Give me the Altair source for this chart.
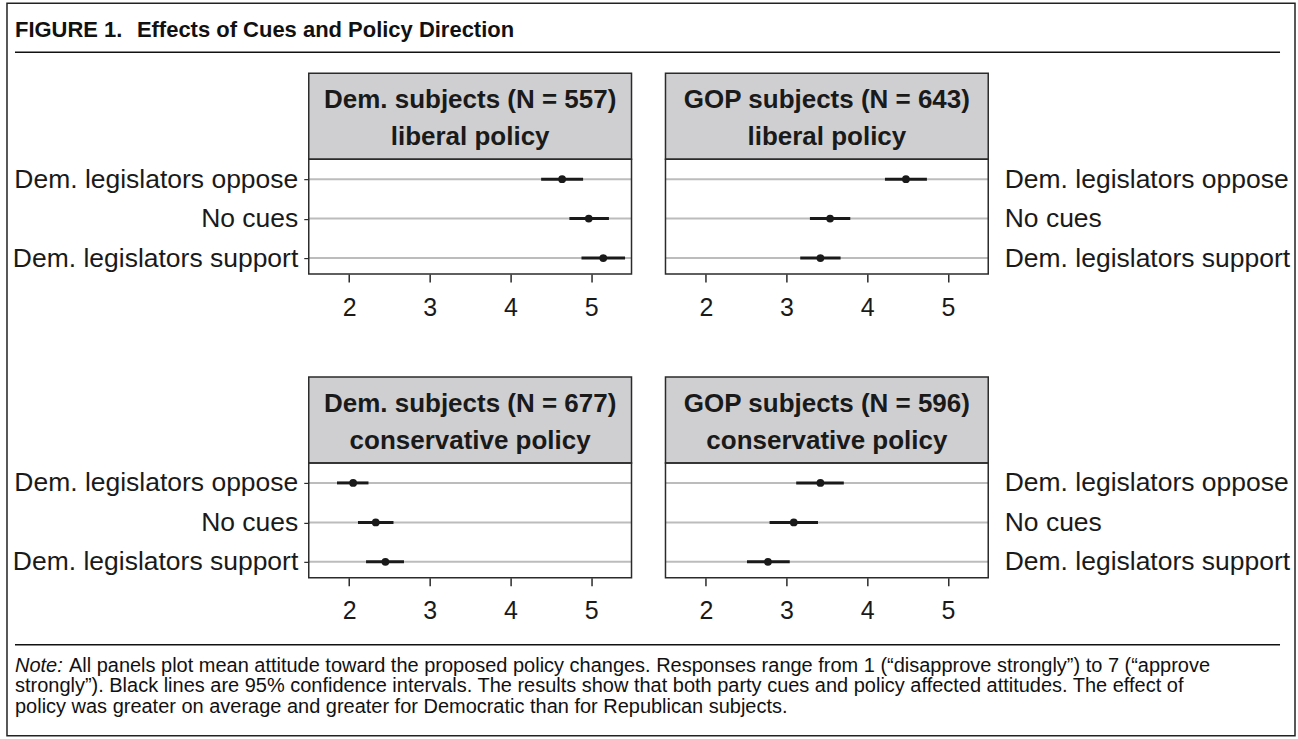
import altair as alt
import pandas as pd

# ---- data -----------------------------------------------------------------
cues = ["Dem. legislators oppose", "No cues", "Dem. legislators support"]

header_top = ["Dem. subjects (N = 557)", "GOP subjects (N = 643)",
              "Dem. subjects (N = 677)", "GOP subjects (N = 596)"]
header_bottom = ["liberal policy", "liberal policy",
                 "conservative policy", "conservative policy"]

# mean attitude and 95% confidence bounds, in the order of `cues`
dem_lib_mean = [4.64, 4.97, 5.15]
dem_lib_lo = [4.38, 4.73, 4.88]
dem_lib_hi = [4.90, 5.22, 5.42]

gop_lib_mean = [4.48, 3.54, 3.42]
gop_lib_lo = [4.22, 3.29, 3.17]
gop_lib_hi = [4.74, 3.79, 3.67]

dem_con_mean = [2.05, 2.33, 2.45]
dem_con_lo = [1.85, 2.11, 2.21]
dem_con_hi = [2.24, 2.55, 2.68]

gop_con_mean = [3.42, 3.09, 2.77]
gop_con_lo = [3.12, 2.79, 2.51]
gop_con_hi = [3.71, 3.39, 3.04]

x_ticks = [2, 3, 4, 5]
x_domain = [1.5, 5.5]

figure_label = ["FIGURE 1."]
figure_title = ["Effects of Cues and Policy Direction"]
note_lead = ["Note:"]
note_line1 = ["All panels plot mean attitude toward the proposed policy changes. "
              "Responses range from 1 (\u201cdisapprove strongly\u201d) to 7 (\u201capprove"]
note_line2 = ["strongly\u201d). Black lines are 95% confidence intervals. The results show "
              "that both party cues and policy affected attitudes. The effect of"]
note_line3 = ["policy was greater on average and greater for Democratic than for "
              "Republican subjects."]

# ---- styling --------------------------------------------------------------
W, H, HEAD = 323, 201, 86          # panel width, header + plot height, header height
FONT = "Liberation Sans"
INK = "#1a1a1a"
EDGE = "#2b2b2b"
LABEL_SIZE = 26.5
NOTE_SIZE = 20
NOTE_X = -294                      # left text margin, relative to a panel's left edge


def one_row(**cols):
    return pd.DataFrame({k: [v] for k, v in cols.items()})


def panel(k, mean, lo, hi, side, extras=()):
    df = pd.DataFrame({"cue": cues, "mean": mean, "lo": lo, "hi": hi})
    head_df = one_row(top=header_top[k], bottom=header_bottom[k])

    xscale = alt.Scale(domain=x_domain, nice=False, zero=False)
    xaxis = alt.Axis(values=x_ticks, domain=False, grid=False, tickSize=8,
                     tickColor=EDGE, tickWidth=1.5, labelPadding=13,
                     labelFontSize=25, labelFont=FONT, labelColor=INK,
                     labelFlush=False, title=None)
    yscale = alt.Scale(type="point", domain=cues, range=[106, 185], padding=0)
    if side == "left":
        yaxis = alt.Axis(orient="left", domain=False, grid=False, ticks=True,
                         tickSize=5, tickColor=EDGE, tickWidth=1.2,
                         labelPadding=6, labelFontSize=LABEL_SIZE, labelFont=FONT,
                         labelColor=INK, labelLimit=400, title=None)
    else:
        yaxis = alt.Axis(orient="right", domain=False, grid=False, ticks=False,
                         labelPadding=16, labelAlign="left", labelFontSize=LABEL_SIZE,
                         labelFont=FONT, labelColor=INK, labelLimit=400, title=None)
    y_enc = alt.Y("cue:N", scale=yscale, axis=yaxis)

    grid = alt.Chart(df).mark_rule(color="#bcbcbc", strokeWidth=2).encode(
        y=y_enc, x=alt.value(0), x2=alt.value(W))
    head = alt.Chart(head_df).mark_rect(fill="#cfcfd1", stroke=EDGE, strokeWidth=1.5).encode(
        x=alt.value(0), x2=alt.value(W), y=alt.value(0), y2=alt.value(HEAD))
    head_t1 = alt.Chart(head_df).mark_text(
        font=FONT, fontSize=26, fontWeight="bold", color=INK, align="center",
        baseline="middle").encode(x=alt.value(W / 2), y=alt.value(27), text="top:N")
    head_t2 = alt.Chart(head_df).mark_text(
        font=FONT, fontSize=26, fontWeight="bold", color=INK, align="center",
        baseline="middle").encode(x=alt.value(W / 2), y=alt.value(64), text="bottom:N")
    frame = alt.Chart(head_df).mark_rect(fillOpacity=0, stroke=EDGE, strokeWidth=1.5).encode(
        x=alt.value(0), x2=alt.value(W), y=alt.value(HEAD), y2=alt.value(H))
    ci = alt.Chart(df).mark_rule(color=INK, strokeWidth=3).encode(
        x=alt.X("lo:Q", scale=xscale, axis=xaxis), x2="hi:Q", y=y_enc)
    dots = alt.Chart(df).mark_circle(size=60, color=INK, opacity=1).encode(
        x=alt.X("mean:Q", scale=xscale, axis=xaxis), y=y_enc)

    return alt.layer(grid, head, head_t1, head_t2, frame, ci, dots, *extras).properties(
        width=W, height=H)


def text_line(values, x, y, size, **style):
    return alt.Chart(pd.DataFrame({"t": values})).mark_text(
        font=FONT, fontSize=size, color="#111", align="left", **style).encode(
        x=alt.value(x), y=alt.value(y), text="t:N")


# figure heading, its rule and the outer border (placed relative to the first panel)
heading = [
    text_line(figure_label, NOTE_X, -36, 22, fontWeight="bold", baseline="alphabetic"),
    text_line(figure_title, -172, -36, 22, fontWeight="bold", baseline="alphabetic"),
    alt.Chart(one_row(a=0)).mark_rule(color="#111", strokeWidth=1.5).encode(
        x=alt.value(NOTE_X), x2=alt.value(972), y=alt.value(-21)),
    alt.Chart(one_row(a=0)).mark_rect(fillOpacity=0, stroke="#222", strokeWidth=1.5).encode(
        x=alt.value(-302), x2=alt.value(987), y=alt.value(-70), y2=alt.value(663)),
]

# note under the panels (placed relative to the lower-left panel)
note = [
    alt.Chart(one_row(a=0)).mark_rule(color="#111", strokeWidth=1.5).encode(
        x=alt.value(NOTE_X), x2=alt.value(972), y=alt.value(268)),
    text_line(note_lead, NOTE_X, 289, NOTE_SIZE, fontStyle="italic", baseline="middle"),
    text_line(note_line1, NOTE_X + 54, 289, NOTE_SIZE, baseline="middle"),
    text_line(note_line2, NOTE_X, 309.5, NOTE_SIZE, baseline="middle"),
    text_line(note_line3, NOTE_X, 330, NOTE_SIZE, baseline="middle"),
]

tl = panel(0, dem_lib_mean, dem_lib_lo, dem_lib_hi, "left", heading)
tr = panel(1, gop_lib_mean, gop_lib_lo, gop_lib_hi, "right")
bl = panel(2, dem_con_mean, dem_con_lo, dem_con_hi, "left", note)
br = panel(3, gop_con_mean, gop_con_lo, gop_con_hi, "right")

chart = alt.concat(
    tl, tr, bl, br, columns=2, spacing={"row": 103, "column": 34}, bounds="flush"
).properties(
    padding={"left": 6, "top": 2, "right": 2, "bottom": 2}, background="white"
).configure_view(strokeOpacity=0)

chart.save("out.html", embed_options={"renderer": "svg", "actions": False})
